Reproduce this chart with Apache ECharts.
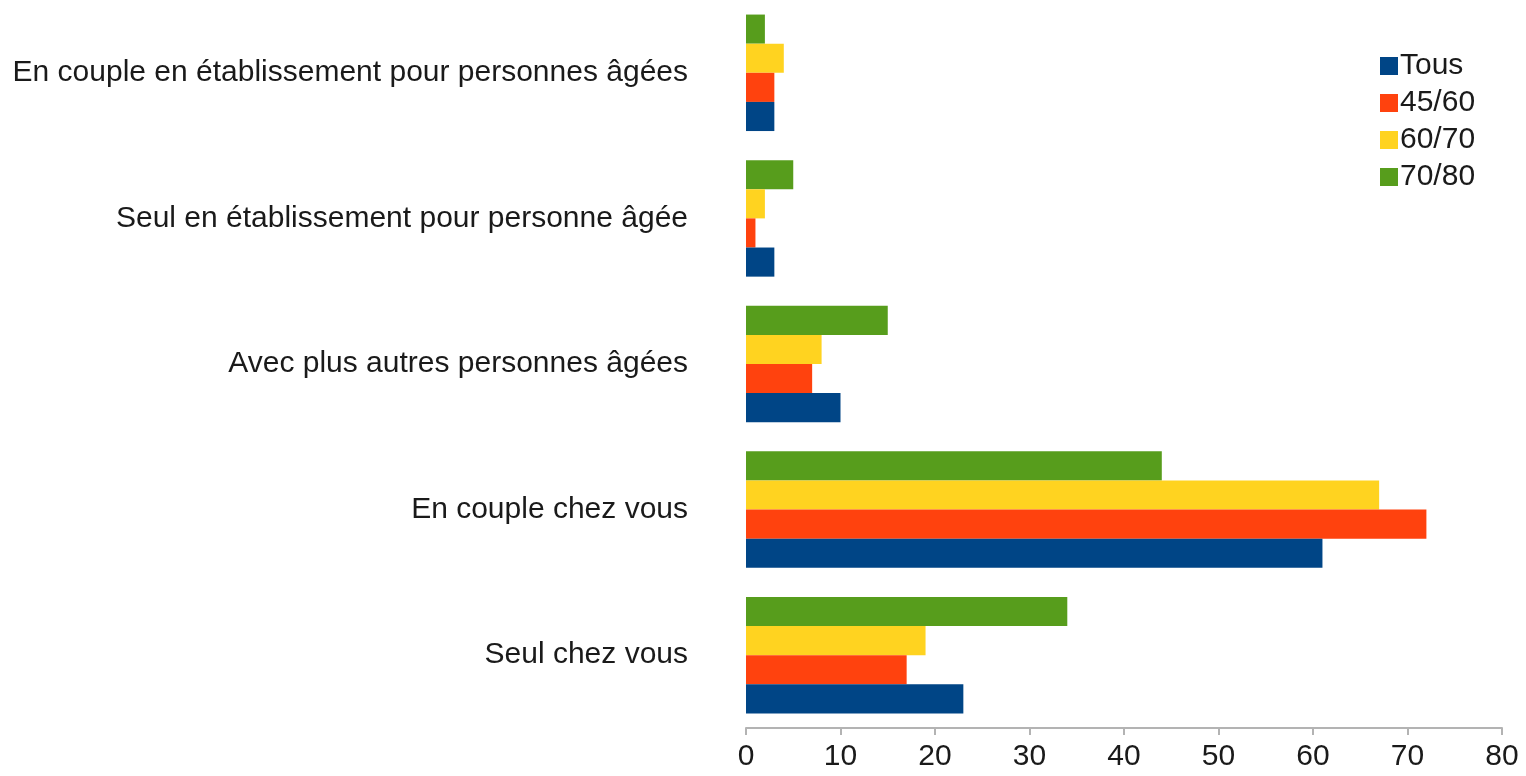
<!DOCTYPE html>
<html>
<head>
<meta charset="utf-8">
<script src="https://cdn.jsdelivr.net/npm/echarts@6/dist/echarts.min.js"></script>
<style>
  html, body { margin: 0; padding: 0; background: #fff; }
  #chart { width: 1526px; height: 776px; }
</style>
</head>
<body>
<div id="chart"></div>
<script>
// catégories, de bas en haut
const categories = [
  'Seul chez vous',
  'En couple chez vous',
  'Avec plus autres personnes âgées',
  'Seul en établissement pour personne âgée',
  'En couple en établissement pour personnes âgées'
];
const seriesNames = ['Tous', '45/60', '60/70', '70/80'];
const tous = [23, 61, 10, 3, 3];
const age45_60 = [17, 72, 7, 1, 3];
const age60_70 = [19, 67, 8, 2, 4];
const age70_80 = [34, 44, 15, 5, 2];
const xTicks = [0, 10, 20, 30, 40, 50, 60, 70, 80];

const colors = ['#004586', '#ff420e', '#ffd320', '#579d1c'];
const values = [tous, age45_60, age60_70, age70_80];

const chart = echarts.init(document.getElementById('chart'));

// la première série est dessinée en haut du groupe : on inverse pour avoir « Tous » en bas
const seriesList = seriesNames.map((name, i) => ({
  name: name,
  type: 'bar',
  data: values[i],
  itemStyle: { color: colors[i] },
  barGap: '0%',
  barCategoryGap: '20%'
})).reverse();

const option = {
  animation: false,
  textStyle: { fontFamily: 'Liberation Sans, Arial, sans-serif' },
  grid: { left: 746, right: 24, top: 0, bottom: 48, containLabel: false },
  legend: {
    orient: 'vertical',
    left: 1375,
    top: 46,
    icon: 'rect',
    itemWidth: 18,
    itemHeight: 18,
    itemGap: 7,
    data: seriesNames,
    textStyle: { fontSize: 30, lineHeight: 30, color: '#1a1a1a', padding: [0, 0, 0, -3] }
  },
  xAxis: {
    type: 'value',
    min: xTicks[0],
    max: xTicks[xTicks.length - 1],
    interval: 10,
    splitLine: { show: false },
    axisLine: { show: true, lineStyle: { color: '#b3b3b3', width: 2 } },
    axisTick: { show: true, length: 7, lineStyle: { color: '#b3b3b3', width: 2 } },
    axisLabel: { fontSize: 30, color: '#1a1a1a', margin: 14 }
  },
  yAxis: {
    type: 'category',
    data: categories,
    axisLine: { show: false },
    axisTick: { show: false },
    axisLabel: { fontSize: 30, color: '#1a1a1a', margin: 58 }
  },
  series: seriesList
};

chart.setOption(option);
</script>
</body>
</html>
